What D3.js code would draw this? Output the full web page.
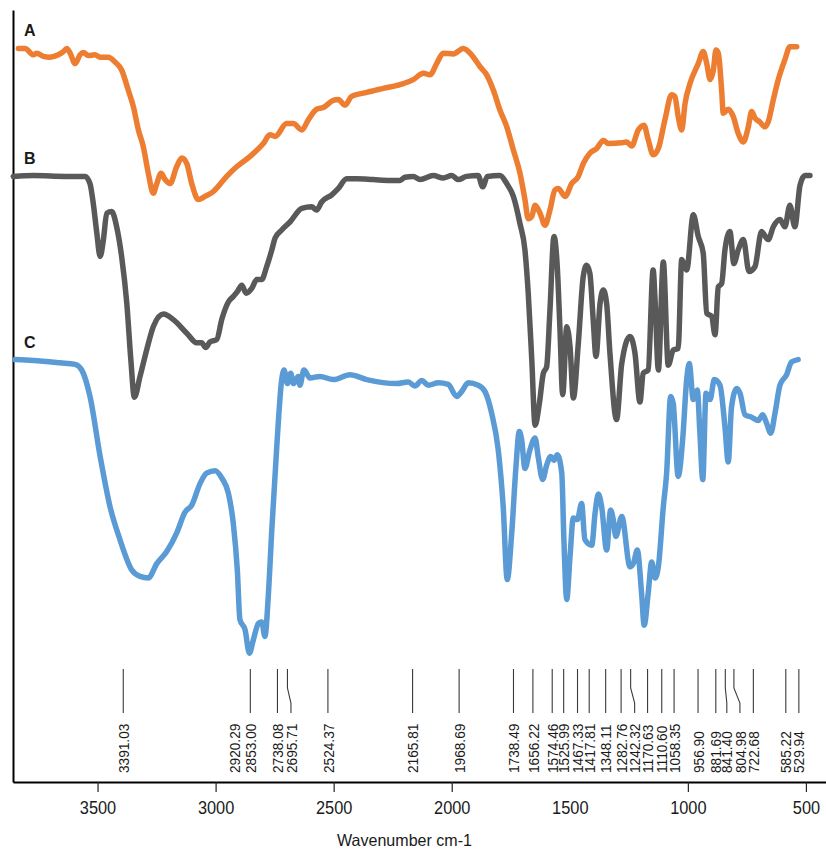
<!DOCTYPE html>
<html>
<head>
<meta charset="utf-8">
<script src="https://cdn.jsdelivr.net/npm/d3@7"></script>
<style>
  body { margin: 0; background: #fff; }
  svg { display: block; }
  text { font-family: "Liberation Sans", Arial, sans-serif; fill: #1a1a1a; }
</style>
</head>
<body>
<svg id="chart" width="826" height="854"></svg>
<script>
// FTIR spectra, stacked: [wavenumber (cm-1), transmittance (offset, a.u.)]
const seriesNames = ["A", "B", "C"];
const seriesColors = ["#ED7D31", "#595959", "#5B9BD5"];

const spectrumA = [
  [3835,95.2],[3807,95.2],[3772,94.4],[3757,94.6],[3730,94.2],[3701,94.1],[3666,94.4],[3645,94.8],
  [3630,95.2],[3616,94.6],[3595,93.3],[3574,94.4],[3560,94.7],[3539,94.3],[3511,94.4],[3489,94.1],
  [3454,94.1],[3426,93.5],[3398,92.5],[3370,90.0],[3348,87.9],[3327,85.0],[3306,82.9],[3285,79.6],
  [3264,77.1],[3249,78.3],[3231,79.6],[3214,78.8],[3193,78.3],[3165,80.4],[3143,81.5],[3122,80.8],
  [3101,78.3],[3073,76.3],[3045,76.7],[3010,77.3],[2953,79.2],[2911,80.4],[2854,81.7],[2798,83.3],
  [2770,84.4],[2748,84.2],[2699,85.8],[2671,85.8],[2635,85.0],[2607,86.3],[2572,87.6],[2544,87.8],
  [2502,88.7],[2480,88.8],[2452,88.1],[2424,89.2],[2360,89.7],[2290,90.2],[2205,90.8],[2163,91.3],
  [2120,92.1],[2092,91.9],[2064,93.3],[2036,94.6],[1993,94.5],[1951,95.2],[1916,94.4],[1880,92.9],
  [1852,91.9],[1824,90.0],[1796,87.5],[1767,85.4],[1739,82.5],[1711,79.6],[1690,76.3],[1676,73.9],
  [1661,74.2],[1647,75.6],[1626,74.6],[1605,73.1],[1584,75.0],[1563,77.5],[1549,77.7],[1520,76.7],
  [1492,78.3],[1464,79.2],[1443,80.8],[1415,82.1],[1386,82.7],[1358,83.7],[1337,83.3],[1280,83.4],
  [1259,83.5],[1238,83.0],[1210,85.0],[1186,85.6],[1168,83.8],[1147,81.9],[1125,82.7],[1097,86.3],
  [1069,89.4],[1055,89.2],[1041,86.7],[1026,85.0],[1012,88.3],[991,90.8],[956,93.3],[935,94.8],
  [920,93.3],[906,91.3],[892,92.5],[881,95.0],[871,94.6],[857,90.0],[850,87.1],[829,87.6],
  [808,86.7],[787,84.6],[765,83.5],[744,85.4],[730,87.3],[716,86.5],[695,86.0],[674,85.4],
  [660,86.0],[638,88.8],[617,91.3],[589,93.8],[568,95.4],[539,95.4]
];

const spectrumB = [
  [3857,79.2],[3772,79.3],[3630,79.2],[3553,79.2],[3532,78.3],[3518,75.8],[3503,72.1],[3489,69.2],
  [3475,71.3],[3461,74.6],[3440,74.8],[3419,72.9],[3398,69.2],[3376,63.3],[3359,56.3],[3344,51.6],
  [3320,54.2],[3292,57.5],[3264,60.4],[3221,62.0],[3179,61.3],[3122,59.6],[3080,58.4],[3059,58.4],
  [3042,57.8],[3024,58.5],[2995,58.8],[2974,61.3],[2946,63.5],[2925,64.2],[2908,64.8],[2889,65.6],
  [2871,64.6],[2847,65.2],[2826,66.3],[2805,66.3],[2784,67.9],[2762,70.0],[2748,71.5],[2720,72.5],
  [2685,73.5],[2635,75.2],[2593,75.4],[2572,75.0],[2551,76.0],[2508,76.9],[2480,77.7],[2445,78.9],
  [2402,78.9],[2332,78.8],[2261,78.7],[2219,78.7],[2198,79.1],[2163,79.2],[2134,78.8],[2078,79.3],
  [2036,79.0],[2000,79.3],[1972,78.8],[1937,79.2],[1888,79.3],[1869,77.9],[1849,79.2],[1796,79.3],
  [1767,78.3],[1739,76.7],[1711,73.3],[1690,70.0],[1676,64.6],[1661,56.3],[1647,48.1],[1629,50.8],
  [1612,54.6],[1598,55.4],[1584,62.5],[1567,71.7],[1553,67.9],[1542,60.4],[1530,51.9],[1513,60.4],
  [1499,57.9],[1485,51.5],[1464,58.3],[1443,66.7],[1429,68.1],[1415,67.1],[1401,61.3],[1389,56.7],
  [1372,63.3],[1358,65.0],[1344,63.3],[1330,57.1],[1302,48.8],[1280,55.8],[1245,59.2],[1224,57.1],
  [1203,51.0],[1189,54.6],[1168,55.0],[1147,67.5],[1139,63.8],[1125,55.0],[1104,68.5],[1083,55.6],
  [1062,57.5],[1041,57.7],[1026,68.8],[1005,67.5],[977,74.4],[956,71.7],[935,69.6],[920,62.1],
  [899,61.7],[885,59.4],[871,65.4],[857,65.8],[843,70.0],[822,72.3],[805,68.3],[787,70.0],
  [765,71.3],[741,67.3],[716,67.9],[688,72.3],[660,71.3],[638,72.9],[610,73.8],[589,72.9],
  [568,75.6],[547,72.9],[525,78.1],[504,79.3],[483,79.3]
];

const spectrumC = [
  [3849,56.3],[3772,56.2],[3659,55.9],[3595,55.7],[3567,55.0],[3532,51.7],[3489,44.2],[3447,37.9],
  [3405,33.8],[3355,30.0],[3320,29.2],[3285,29.0],[3249,30.8],[3207,32.3],[3165,34.6],[3130,37.2],
  [3101,38.1],[3066,40.8],[3038,42.1],[3002,42.4],[2974,41.5],[2946,39.6],[2925,35.8],[2908,30.0],
  [2897,23.8],[2875,22.5],[2857,19.6],[2840,21.3],[2819,23.3],[2805,23.5],[2791,21.7],[2777,26.7],
  [2762,35.0],[2741,45.4],[2720,53.8],[2710,55.0],[2696,53.3],[2682,54.6],[2671,53.3],[2650,54.2],
  [2643,53.1],[2626,55.0],[2600,54.0],[2558,54.2],[2502,53.8],[2431,54.4],[2360,53.8],[2233,53.3],
  [2184,53.5],[2156,53.0],[2127,53.7],[2099,53.1],[2057,53.4],[2015,53.2],[1979,51.7],[1958,52.3],
  [1930,53.4],[1888,53.1],[1859,52.3],[1831,49.6],[1803,45.0],[1782,37.9],[1765,28.8],[1746,34.6],
  [1728,42.9],[1714,47.3],[1704,46.3],[1690,42.7],[1669,45.0],[1647,46.5],[1634,44.2],[1615,41.3],
  [1598,43.1],[1581,44.2],[1567,43.7],[1553,44.4],[1534,42.1],[1525,33.8],[1513,26.3],[1499,31.7],
  [1485,36.5],[1468,36.3],[1450,38.3],[1436,33.8],[1407,33.1],[1393,37.1],[1379,39.5],[1365,37.9],
  [1344,32.5],[1327,37.5],[1316,36.3],[1305,34.2],[1280,36.7],[1245,30.4],[1231,30.8],[1214,32.5],
  [1196,27.1],[1185,23.1],[1168,27.1],[1153,31.0],[1139,29.0],[1125,30.4],[1104,37.9],[1090,42.1],
  [1073,51.7],[1062,50.8],[1041,41.7],[1022,46.3],[1005,53.8],[994,55.8],[977,51.3],[960,52.5],
  [949,47.1],[937,41.3],[923,52.1],[906,51.3],[888,53.8],[864,53.1],[843,47.9],[829,43.5],
  [815,50.4],[793,52.7],[779,52.1],[758,49.4],[730,49.1],[702,48.7],[683,49.4],[666,48.3],
  [649,47.1],[631,49.6],[610,53.1],[582,54.4],[561,56.0],[533,56.3]
];

// Band positions marked under the spectra (cm-1)
const peakLabels = [
  "3391.03","2920.29","2853.00","2738.08","2695.71","2524.37","2165.81","1968.69",
  "1738.49","1656.22","1574.46","1525.99","1467.33","1417.81","1348.11","1282.76",
  "1242.32","1170.63","1110.60","1058.35","956.90","881.69","841.40","804.98",
  "722.68","585.22","529.94"
];
// Bands whose label sits beside the guide line (bent leader) and bands without a guide line
const leaderShift = { "2695.71": 3.5, "1242.32": 4, "841.40": 1.5, "804.98": 6 };
const noGuide = new Set(["2920.29"]);

const axisTicks = [3500, 3000, 2500, 2000, 1500, 1000, 500];
const unmarkedTicks = new Set([1500]);
const axisTitle = "Wavenumber cm-1";

const svg = d3.select("#chart");
const x = d3.scaleLinear().domain([3858, 415]).range([13, 826]);
const y = d3.scaleLinear().domain([3.5, 100]).range([782, 10]);

// Narrow glyphs: fit a text element to a given advance
function fitWidth(sel, k) {
  sel.each(function () {
    const w = this.getComputedTextLength();
    d3.select(this).attr("textLength", w * k).attr("lengthAdjust", "spacingAndGlyphs");
  });
}

// Axes
const gx = svg.append("g").attr("transform", "translate(0,782)")
  .call(d3.axisBottom(x).tickValues(axisTicks).tickSize(10).tickSizeOuter(0)
    .tickPadding(9).tickFormat(d3.format("d")));
gx.select(".domain").attr("stroke", "#000").attr("stroke-width", 2);
gx.selectAll(".tick line").attr("stroke", "#222").attr("stroke-width", 1.2)
  .filter(d => unmarkedTicks.has(d)).remove();
gx.selectAll(".tick text").attr("font-size", 19).attr("fill", "#1a1a1a")
  .style("font-family", "'Liberation Sans', Arial, sans-serif").call(fitWidth, 0.86);

const gy = svg.append("g").attr("transform", "translate(13,0)")
  .call(d3.axisLeft(y).tickValues([]).tickSizeOuter(0));
gy.select(".domain").attr("stroke", "#000").attr("stroke-width", 2);

svg.append("text").attr("x", 404.5).attr("y", 846).attr("text-anchor", "middle")
  .attr("font-size", 16.5).attr("textLength", 135).attr("lengthAdjust", "spacingAndGlyphs")
  .text(axisTitle);

// Spectra
const line = d3.line().x(d => x(d[0])).y(d => y(d[1])).curve(d3.curveMonotoneX);
const spectra = [spectrumA, spectrumB, spectrumC];
svg.append("g").selectAll("path").data(spectra).join("path")
  .attr("d", line).attr("fill", "none")
  .attr("stroke", (d, i) => seriesColors[i]).attr("stroke-width", 5.5)
  .attr("stroke-linejoin", "round").attr("stroke-linecap", "round");

// Spectrum letters
svg.append("g").selectAll("text").data(seriesNames).join("text")
  .attr("x", 24).attr("y", (d, i) => y(spectra[i][0][1]) - 12)
  .attr("font-size", 16).attr("font-weight", "bold").attr("fill", "#000").text(d => d);

// Band guides and labels
const guideTop = 669, guideBottom = 713, labelBase = 773;
const bands = svg.append("g");
peakLabels.forEach(lbl => {
  const px = x(+lbl);
  const dx = leaderShift[lbl] || 0;
  if (!noGuide.has(lbl)) {
    const pts = dx
      ? [[px, guideTop], [px, guideTop + 19], [px + dx, guideTop + 34], [px + dx, guideBottom]]
      : [[px, guideTop], [px, guideBottom]];
    bands.append("path").attr("d", d3.line()(pts)).attr("fill", "none")
      .attr("stroke", "#3a3a3a").attr("stroke-width", 1.1);
  }
  bands.append("text")
    .attr("transform", `translate(${px + dx},${labelBase}) rotate(-90)`)
    .attr("dy", "0.36em").attr("font-size", 15.5).attr("fill", "#1a1a1a")
    .text(lbl).call(fitWidth, 0.88);
});
</script>
</body>
</html>
